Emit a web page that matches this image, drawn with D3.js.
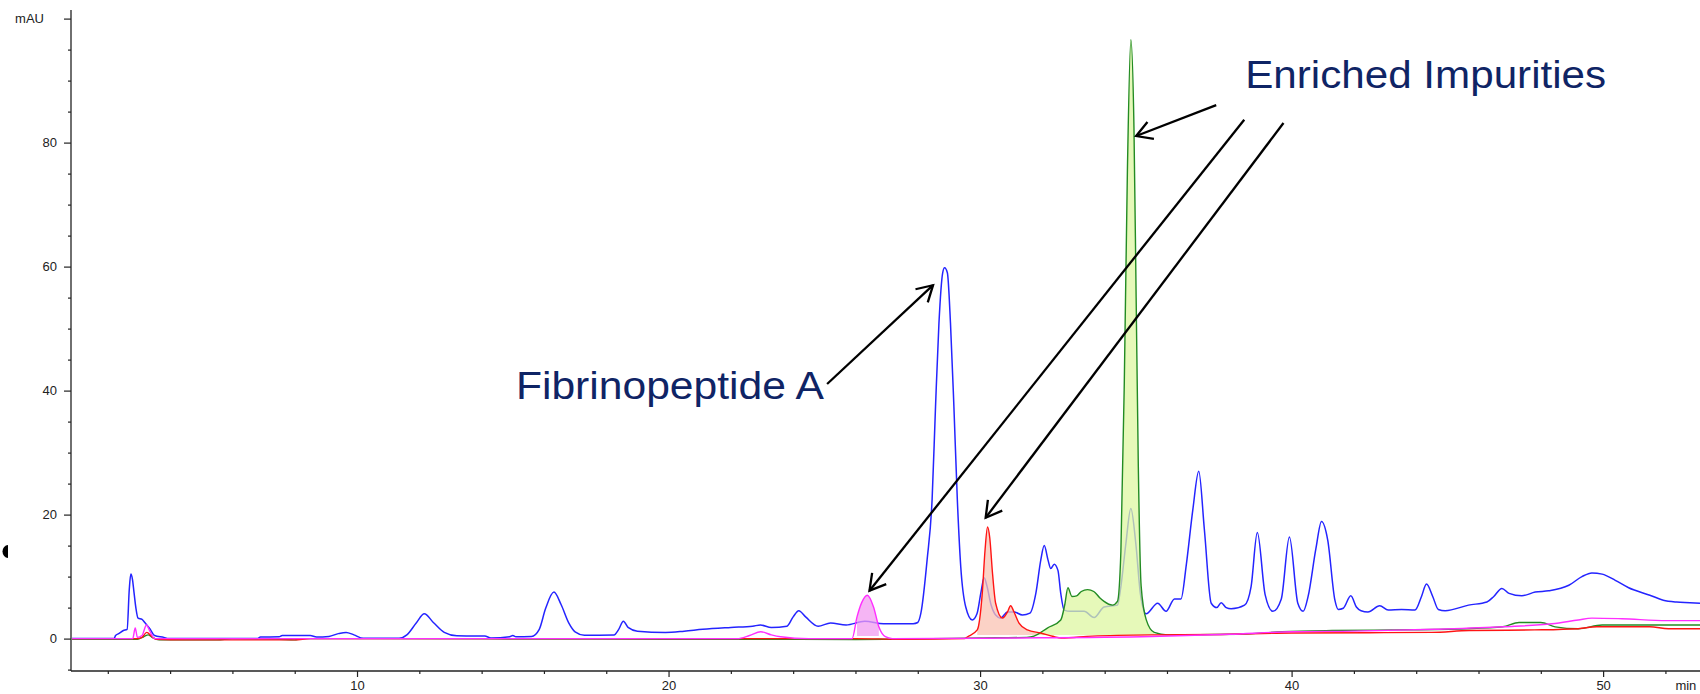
<!DOCTYPE html>
<html>
<head>
<meta charset="utf-8">
<script src="https://cdn.jsdelivr.net/npm/d3@7/dist/d3.min.js"></script>
<style>
  html, body { margin: 0; padding: 0; background: #ffffff; }
  svg { display: block; }
  text { font-family: "Liberation Sans", Arial, sans-serif; }
</style>
</head>
<body>
<svg id="chart" width="1700" height="694"></svg>
<script>
// ---------------- DATA ----------------
const blueTime = [0.82,2.2,2.25,2.35,2.5,2.62,2.69,2.74,2.79,2.84,2.9,2.97,3.1,3.2,3.35,3.5,3.8,3.95,6.8,6.9,7.5,7.6,8.5,8.7,9.1,9.4,9.65,9.9,10.2,11.35,11.6,11.9,12.16,12.45,12.8,13.2,14.1,14.3,14.9,15.0,15.1,15.6,15.85,16.05,16.32,16.55,16.8,17.0,17.3,18.25,18.4,18.55,18.7,19.0,19.9,20.5,21.1,22.0,22.7,22.95,23.3,23.8,24.0,24.18,24.4,24.8,25.2,25.7,26.3,26.9,27.85,28.0,28.1,28.3,28.46,28.57,28.68,28.8,28.86,28.95,29.05,29.16,29.27,29.38,29.54,29.75,29.9,30.03,30.13,30.22,30.35,30.5,30.66,30.88,31.09,31.36,31.6,31.79,31.95,32.06,32.18,32.27,32.38,32.5,32.59,32.7,32.9,33.34,33.66,33.98,34.41,34.52,34.68,34.84,35.0,35.15,35.33,35.7,35.97,36.24,36.45,36.62,36.83,37.02,37.2,37.42,37.6,37.74,37.9,38.06,38.49,38.7,38.9,39.15,39.4,39.67,39.93,40.2,40.37,40.53,40.78,40.96,41.16,41.39,41.5,41.66,41.9,42.08,42.23,42.45,42.83,43.1,43.53,43.96,44.17,44.33,44.53,44.71,44.93,45.68,46.27,46.49,46.75,46.98,47.39,47.82,48.25,48.9,49.32,49.64,49.97,50.39,50.82,51.5,51.93,52.36,52.79,53.11];
const blueMAU  = [0.0,0.0,0.5,0.8,1.3,1.5,8.0,10.4,9.6,7.5,5.0,3.3,3.1,2.5,1.6,0.5,0.2,0.0,0.0,0.25,0.3,0.5,0.5,0.25,0.35,0.8,1.0,0.6,0.05,0.05,0.6,2.5,4.0,2.6,1.0,0.45,0.4,0.1,0.3,0.5,0.3,0.35,1.5,4.8,7.5,5.5,2.5,1.1,0.55,0.6,1.5,2.8,1.8,1.2,1.0,1.2,1.5,1.8,2.0,2.2,1.8,2.0,3.5,4.5,3.5,2.0,2.5,2.2,2.8,2.4,2.4,2.6,4.1,12.7,22.4,37.4,50.9,59.0,59.8,59.0,50.9,37.4,22.4,11.6,5.1,3.0,4.0,7.5,9.8,8.5,5.5,3.8,3.3,4.3,4.3,3.8,4.1,7.3,12.7,15.0,12.7,11.3,12.0,11.0,7.3,4.6,4.4,4.4,3.4,5.1,5.4,8.4,15.3,21.0,15.3,7.1,4.0,5.7,4.4,6.4,6.4,11.9,20.8,27.0,17.6,5.7,5.0,5.8,5.0,4.8,5.4,8.4,17.1,7.1,4.4,6.4,16.4,5.7,4.4,6.8,14.5,18.9,15.9,6.2,4.7,4.9,6.9,5.1,4.5,4.3,5.3,4.6,4.7,4.6,6.8,8.8,6.8,4.7,4.5,5.4,5.9,6.8,8.1,7.3,6.9,7.5,7.7,8.6,10.0,10.6,10.4,9.4,8.2,7.0,6.2,5.9,5.8,5.7];

const greenTime = [0.82,2.95,3.15,3.3,3.45,3.65,5.5,6.0,7.5,8.0,8.2,20.0,22.3,26.0,27.2,30.0,31.5,31.73,32.16,32.59,32.72,32.82,32.95,33.1,33.25,33.45,33.65,33.84,33.98,34.25,34.41,34.52,34.63,34.73,34.84,34.94,35.01,35.08,35.17,35.33,35.59,36.02,38.3,39.7,41.3,43.2,45.6,46.78,47.3,48.0,48.46,49.2,49.97,53.11];
const greenMAU  = [-0.1,-0.1,0.3,0.6,0.1,-0.2,-0.2,0.0,-0.1,-0.2,0.0,-0.1,-0.1,-0.15,-0.1,0.1,0.2,0.4,1.7,3.0,5.5,8.2,6.8,6.9,7.6,7.9,7.6,6.6,6.0,5.4,6.0,14.0,41.4,75.6,96.6,82.4,55.0,27.7,8.5,3.1,1.0,0.6,0.7,1.1,1.3,1.4,1.6,1.9,2.6,2.6,1.9,1.6,2.2,2.2];

const redTime = [0.82,2.95,3.1,3.25,3.4,3.55,4.5,8.0,8.5,26.0,27.5,29.5,29.6,29.91,30.07,30.16,30.24,30.31,30.4,30.5,30.72,30.88,30.98,31.09,31.25,31.52,31.95,32.38,32.6,33.6,35.5,37.5,40.0,42.5,44.5,45.7,47.8,49.2,49.8,51.5,52.1,53.11];
const redMAU  = [0.0,0.0,0.2,1.0,0.4,-0.1,-0.2,-0.2,0.0,0.0,-0.1,0.0,0.3,1.4,7.3,14.3,18.0,16.3,10.5,5.7,3.3,4.3,5.3,4.3,2.5,1.4,0.9,0.3,0.1,0.4,0.6,0.65,0.9,0.95,1.0,1.3,1.4,1.6,1.9,1.9,1.6,1.6];

const magentaTime = [0.82,2.8,2.88,2.95,3.1,3.24,3.35,3.5,22.2,22.6,22.96,23.3,23.6,24.5,25.89,26.05,26.2,26.38,26.58,26.75,26.96,27.18,31.0,35.5,38.0,40.0,42.0,44.6,46.8,48.36,49.2,49.64,50.6,52.04,53.11];
const magentaMAU  = [0.0,0.0,1.7,0.2,0.5,2.2,1.2,0.0,0.0,0.5,1.1,0.6,0.3,0.0,0.0,3.5,5.8,7.0,5.1,1.9,0.3,0.0,0.1,0.35,0.7,1.1,1.2,1.5,1.9,2.4,3.0,3.3,3.2,2.9,2.9];

// shaded (integrated) peak windows: [start, end] in minutes
const magentaFillRange = [25.95, 26.85];
const redFillRange = [29.85, 32.5];
const greenFillRange = [31.7, 35.7];

// axis ticks
const xTicks = d3.range(2, 53, 2);
const xLabelTicks = [10, 20, 30, 40, 50];
const yTicks = d3.range(-5, 101, 5);
const yLabelTicks = [0, 20, 40, 60, 80];
const xUnit = "min";
const yUnit = "mAU";

// annotations (data coordinates: minutes, mAU)
const labels = [
  { text: "Enriched Impurities", t: 38.51, v: 88.8, width: 361 },
  { text: "Fibrinopeptide A", t: 15.1, v: 38.65, width: 308 }
];
const arrows = [
  { from: [25.09, 41.06], to: [28.49, 57.0] },
  { from: [37.58, 86.05], to: [35.01, 81.06] },
  { from: [38.48, 83.7],  to: [26.45, 7.73] },
  { from: [39.74, 83.16], to: [30.18, 19.5] }
];

// ---------------- CHART ----------------
const svg = d3.select("#chart");
const axisX = 71, axisY = 671, right = 1700;

const x = d3.scaleLinear().domain([0, 53.11]).range([45.5, 1700]);
const y = d3.scaleLinear().domain([-5, 100]).range([669.6, 18.6]);

const zip = (ts, vs) => ts.map((t, i) => ({ t, v: vs[i] }));
const blue = zip(blueTime, blueMAU);
const green = zip(greenTime, greenMAU);
const red = zip(redTime, redMAU);
const magenta = zip(magentaTime, magentaMAU);

svg.append("defs").append("clipPath").attr("id", "plotclip")
  .append("rect").attr("x", axisX + 1).attr("y", 0).attr("width", right - axisX).attr("height", axisY - 1);

const plot = svg.append("g").attr("clip-path", "url(#plotclip)");

const line = d3.line().x(d => x(d.t)).y(d => y(d.v)).curve(d3.curveMonotoneX);
const areaFor = (base) => d3.area().x(d => x(d.t)).y0(y(base)).y1(d => y(d.v)).curve(d3.curveMonotoneX);

// blue trace first
plot.append("path").datum(blue).attr("d", line)
  .attr("fill", "none").attr("stroke", "#2424ff").attr("stroke-width", 1.5);

// filled peaks (semi-transparent over blue)
const inRange = (s, r) => s.filter(d => d.t >= r[0] && d.t <= r[1]);
plot.append("path").datum(inRange(magenta, magentaFillRange)).attr("d", areaFor(0.4))
  .attr("fill", "#f29cf0").attr("opacity", 0.75);
plot.append("path").datum(inRange(red, redFillRange)).attr("d", areaFor(0.6))
  .attr("fill", "#f9c3b3").attr("opacity", 0.75);
plot.append("path").datum(inRange(green, greenFillRange)).attr("d", areaFor(0.6))
  .attr("fill", "#def7a2").attr("opacity", 0.75);

plot.append("path").datum(green).attr("d", line)
  .attr("fill", "none").attr("stroke", "#238c23").attr("stroke-width", 1.4);
plot.append("path").datum(red).attr("d", line)
  .attr("fill", "none").attr("stroke", "#ff1414").attr("stroke-width", 1.4);
plot.append("path").datum(magenta).attr("d", line)
  .attr("fill", "none").attr("stroke", "#ff2eff").attr("stroke-width", 1.4);

// axes
const gx = svg.append("g").attr("transform", `translate(0,${axisY})`)
  .call(d3.axisBottom(x).tickValues(xTicks).tickSize(3).tickPadding(7)
    .tickFormat(d => xLabelTicks.includes(d) ? d : ""));
gx.select(".domain").remove();
gx.selectAll(".tick line").attr("stroke", "#222").attr("stroke-width", 1.2)
  .attr("y2", d => xLabelTicks.includes(d) ? 6 : 3);
gx.selectAll(".tick text").attr("font-size", 13).attr("fill", "#222")
  .attr("font-family", "'Liberation Sans', Arial, sans-serif");

const gy = svg.append("g").attr("transform", `translate(${axisX},0)`)
  .call(d3.axisLeft(y).tickValues(yTicks).tickSize(3).tickPadding(11)
    .tickFormat(d => yLabelTicks.includes(d) ? d : ""));
gy.select(".domain").remove();
gy.selectAll(".tick line").attr("stroke", "#222").attr("stroke-width", 1.2)
  .attr("x2", d => (d % 20 === 0 && d >= 0) ? -7 : -3);
gy.selectAll(".tick text").attr("font-size", 13).attr("fill", "#222")
  .attr("font-family", "'Liberation Sans', Arial, sans-serif");

svg.append("line").attr("x1", axisX).attr("x2", axisX).attr("y1", 10).attr("y2", axisY)
  .attr("stroke", "#222").attr("stroke-width", 1.3);
svg.append("line").attr("x1", axisX).attr("x2", right).attr("y1", axisY).attr("y2", axisY)
  .attr("stroke", "#222").attr("stroke-width", 1.3);

svg.append("text").text(yUnit).attr("x", 44).attr("y", y(100) + 4.5)
  .attr("text-anchor", "end").attr("font-size", 13).attr("fill", "#222");
svg.append("text").text(xUnit).attr("x", x(52) + 10).attr("y", 690)
  .attr("font-size", 13).attr("fill", "#222");

// stray mark at left edge
svg.append("path").attr("d", "M8,545 A5.5,6.5 0 0 0 8,558 Z").attr("fill", "#000");

// annotations
labels.forEach(l => {
  svg.append("text").text(l.text).attr("x", x(l.t)).attr("y", y(l.v))
    .attr("font-size", 39).attr("fill", "#0f2465")
    .attr("textLength", l.width).attr("lengthAdjust", "spacingAndGlyphs");
});

arrows.forEach(a => {
  const x1 = x(a.from[0]), y1 = y(a.from[1]), x2 = x(a.to[0]), y2 = y(a.to[1]);
  const ang = Math.atan2(y1 - y2, x1 - x2);
  const L = 18, w = Math.PI / 6;
  const p1 = [x2 + L * Math.cos(ang + w), y2 + L * Math.sin(ang + w)];
  const p2 = [x2 + L * Math.cos(ang - w), y2 + L * Math.sin(ang - w)];
  svg.append("line").attr("x1", x1).attr("y1", y1).attr("x2", x2).attr("y2", y2)
    .attr("stroke", "#000").attr("stroke-width", 2.3);
  svg.append("path").attr("d", `M${p1[0]},${p1[1]} L${x2},${y2} L${p2[0]},${p2[1]}`)
    .attr("fill", "none").attr("stroke", "#000").attr("stroke-width", 2.3)
    .attr("stroke-linejoin", "miter");
});
</script>
</body>
</html>
